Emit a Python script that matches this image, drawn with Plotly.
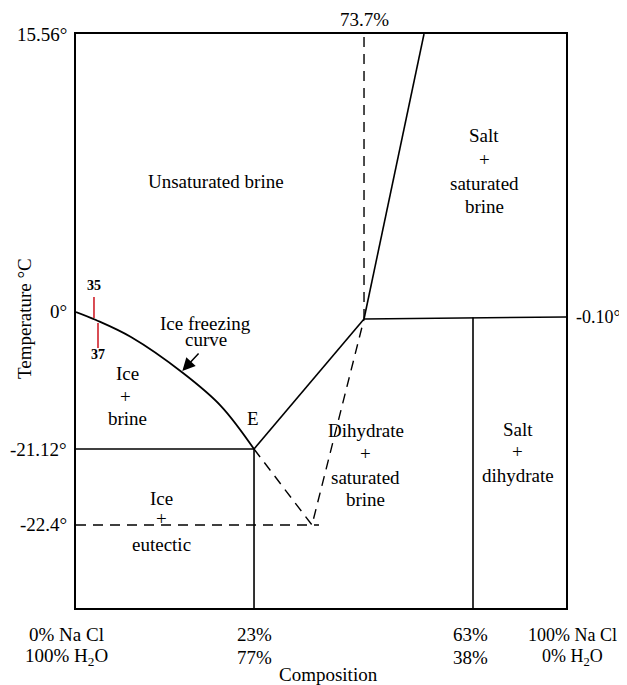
import plotly.graph_objects as go

# Schematic diagram coordinates (x: 0..100 across the box, y: 0..100 bottom..top)
curve_x = [0, 4.08, 11.22, 21.84, 29.59, 36.33]
curve_y = [51.57, 50.17, 47.21, 40.94, 35.19, 27.70]

eutectic_pt = (36.33, 27.70)
peritectic_pt = (58.78, 50.35)
salt_top = (71.02, 100)
right_end = (100, 50.70)
vtx = (48.16, 14.46)

solid_lines = {
    "eutectic_iso": ([0, eutectic_pt[0]], [eutectic_pt[1], eutectic_pt[1]]),
    "eutectic_vert": ([eutectic_pt[0], eutectic_pt[0]], [eutectic_pt[1], 0]),
    "sat_curve": ([eutectic_pt[0], peritectic_pt[0]], [eutectic_pt[1], peritectic_pt[1]]),
    "salt_curve": ([peritectic_pt[0], salt_top[0]], [peritectic_pt[1], salt_top[1]]),
    "peritectic_iso": ([peritectic_pt[0], right_end[0]], [peritectic_pt[1], right_end[1]]),
    "dihydrate_vert": ([81.02, 81.02], [50.62, 0]),
}
dashed_lines = {
    "metastable_a": ([eutectic_pt[0], vtx[0], peritectic_pt[0]], [eutectic_pt[1], vtx[1], peritectic_pt[1]]),
    "metastable_iso": ([0, 49.59], [14.46, 14.46]),
    "comp_737": ([peritectic_pt[0], peritectic_pt[0]], [peritectic_pt[1], 100]),
}
red_x = [[3.67, 3.67], [4.49, 4.49]]
red_y = [[54.18, 50.52], [49.65, 45.30]]

temp_labels = ["15.56°", "0°", "-21.12°", "-22.4°"]
temp_pos = [100, 51.57, 27.70, 14.46]

FONT = "Liberation Serif, Times New Roman, Times, serif"
FS = 19

fig = go.Figure()
for name, (xs, ys) in solid_lines.items():
    fig.add_trace(go.Scatter(x=xs, y=ys, mode="lines", line=dict(color="black", width=1.6),
                             hoverinfo="skip", showlegend=False))
for name, (xs, ys) in dashed_lines.items():
    fig.add_trace(go.Scatter(x=xs, y=ys, mode="lines", line=dict(color="black", width=1.4, dash="10px,7px"),
                             hoverinfo="skip", showlegend=False))
fig.add_trace(go.Scatter(x=curve_x, y=curve_y, mode="lines",
                         line=dict(color="black", width=1.8, shape="spline", smoothing=1.0),
                         hoverinfo="skip", showlegend=False))
for xs, ys in zip(red_x, red_y):
    fig.add_trace(go.Scatter(x=xs, y=ys, mode="lines", line=dict(color="#d0202a", width=1.6),
                             hoverinfo="skip", showlegend=False))

def ann(text, x, y, size=FS, xanchor="center", **kw):
    fig.add_annotation(text=text, x=x / 100, y=y / 100, xref="paper", yref="paper", showarrow=False,
                       font=dict(family=FONT, size=size, color="black"), xanchor=xanchor,
                       yanchor="middle", **kw)

for t, y in zip(temp_labels, temp_pos):
    ann(t, -1.4, y, xanchor="right")
ann("-0.10°", 101.6, 50.70, size=18, xanchor="left")
ann("73.7%", 58.78, 102.6)

bottom = [("0% Na Cl", "100% H<sub>2</sub>O", -2.04, FS), ("23%", "77%", 36.33, FS),
          ("63%", "38%", 80.6, FS), ("100% Na Cl", "0% H<sub>2</sub>O", 101.4, 18)]
for a, b, x, s in bottom:
    ann(a, x, -4.70, size=s)
    ann(b, x, -8.54, size=s)
ann("Composition", 51.6, -11.6)
ann("Temperature °C", -10.4, 50.35, textangle=-90)

ann("Unsaturated brine", 28.57, 74.39)
for t, y in zip(["Salt", "+", "saturated", "brine"], [82.23, 78.22, 74.04, 70.03]):
    ann(t, 83.27, y)
ann("Ice freezing", 26.33, 49.6)
ann("curve", 26.53, 46.8)
for t, y in zip(["Ice", "+", "brine"], [40.94, 36.93, 32.93]):
    ann(t, 10.61 if t != "+" else 10.0, y)
ann("E", 36.12, 32.93)
for t, y in zip(["Dihydrate", "+", "saturated", "brine"], [30.84, 27.0, 22.65, 18.82]):
    ann(t, 59.18, y)
for t, y in zip(["Salt", "+", "dihydrate"], [31.18, 27.18, 23.17]):
    ann(t, 90.2, y)
for t, y in zip(["Ice", "+", "eutectic"], [19.16, 15.51, 10.98]):
    ann(t, 17.35, y)

ann("<b>35</b>", 3.67, 56.10, size=14)
ann("<b>37</b>", 4.49, 44.08, size=14)

fig.add_annotation(x=21.7, y=41.3, ax=25.3, ay=44.6, xref="x", yref="y", axref="x", ayref="y",
                   showarrow=True, arrowhead=2, arrowsize=1.7, arrowwidth=1.5, arrowcolor="black", text="")

fig.update_xaxes(range=[0, 100], showgrid=False, zeroline=False, showticklabels=False, ticks="",
                 showline=True, mirror=True, linecolor="black", linewidth=1.6)
fig.update_yaxes(range=[0, 100], showgrid=False, zeroline=False, showticklabels=False, ticks="",
                 showline=True, mirror=True, linecolor="black", linewidth=1.6)
fig.update_layout(width=627, height=685, margin=dict(l=68, r=69, t=26, b=85),
                  plot_bgcolor="white", paper_bgcolor="white", showlegend=False,
                  font=dict(family=FONT, size=FS, color="black"))
fig.write_html("out.html")
